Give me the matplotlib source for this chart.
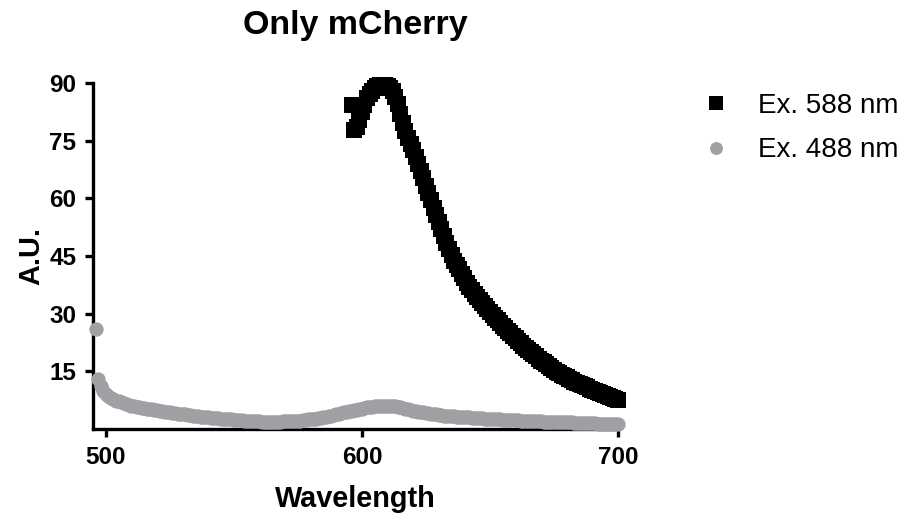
import numpy as np
import matplotlib
matplotlib.use("Agg")
import matplotlib.pyplot as plt

plt.rcParams['font.family'] = ['Liberation Sans', 'DejaVu Sans']

title = "Only mCherry"
x_label = "Wavelength"
y_label = "A.U."
series_names = ["Ex. 588 nm", "Ex. 488 nm"]
x_ticks = [500, 600, 700]
y_ticks = [15, 30, 45, 60, 75, 90]

# Emission scans, 1 nm steps
wl_588 = np.arange(596, 701, 1)
em_588 = [
    84.2, 77.8, 78.5, 80.5, 82.5, 84.3, 86.0, 87.1, 88.0, 88.7,
    89.2, 89.5, 89.6, 89.5, 89.3, 88.6, 87.8, 86.3, 84.5, 82.0,
    79.5, 77.6, 75.8, 74.2, 72.5, 70.8, 69.0, 67.1, 65.2, 63.3,
    61.5, 59.5, 57.6, 55.7, 53.8, 52.0, 50.2, 48.5, 46.9, 45.3,
    43.8, 42.6, 41.5, 40.4, 39.3, 38.1, 37.0, 36.1, 35.2, 34.3,
    33.5, 32.7, 31.9, 31.1, 30.4, 29.7, 29.0, 28.3, 27.6, 26.9,
    26.3, 25.6, 25.0, 24.3, 23.7, 23.0, 22.4, 21.7, 21.1, 20.5,
    20.0, 19.4, 18.9, 18.3, 17.8, 17.3, 16.8, 16.3, 15.8, 15.3,
    14.9, 14.5, 14.1, 13.7, 13.4, 13.0, 12.7, 12.3, 12.0, 11.7,
    11.4, 11.1, 10.8, 10.5, 10.2, 9.9, 9.7, 9.4, 9.1, 8.8,
    8.6, 8.3, 8.1, 7.8, 7.6,
]

wl_488 = np.arange(496, 701, 1)
em_488 = [
    26.0, 13.0, 11.2, 10.0, 9.2, 8.5, 8.0, 7.7, 7.4, 7.2,
    7.0, 6.7, 6.5, 6.3, 6.1, 5.9, 5.8, 5.6, 5.5, 5.4,
    5.3, 5.2, 5.1, 5.0, 4.9, 4.7, 4.6, 4.5, 4.4, 4.3,
    4.2, 4.1, 4.0, 3.9, 3.9, 3.8, 3.7, 3.6, 3.5, 3.4,
    3.3, 3.2, 3.1, 3.0, 3.0, 2.9, 2.9, 2.8, 2.8, 2.7,
    2.7, 2.6, 2.5, 2.5, 2.4, 2.4, 2.3, 2.3, 2.2, 2.2,
    2.1, 2.1, 2.0, 2.0, 2.0, 1.9, 1.9, 1.9, 1.9, 1.9,
    1.9, 1.9, 1.9, 2.0, 2.0, 2.0, 2.0, 2.1, 2.1, 2.2,
    2.2, 2.3, 2.4, 2.5, 2.6, 2.6, 2.7, 2.8, 2.8, 3.0,
    3.1, 3.3, 3.4, 3.6, 3.8, 3.9, 4.1, 4.3, 4.4, 4.6,
    4.7, 4.9, 5.0, 5.2, 5.3, 5.5, 5.6, 5.7, 5.8, 5.9,
    6.0, 6.05, 6.1, 6.1, 6.1, 6.05, 6.0, 5.9, 5.8, 5.65,
    5.5, 5.3, 5.1, 4.95, 4.8, 4.65, 4.5, 4.4, 4.3, 4.2,
    4.1, 4.0, 3.9, 3.8, 3.7, 3.6, 3.5, 3.45, 3.4, 3.35,
    3.3, 3.25, 3.2, 3.15, 3.1, 3.05, 3.0, 2.95, 2.9, 2.85,
    2.8, 2.75, 2.7, 2.7, 2.7, 2.65, 2.6, 2.55, 2.5, 2.45,
    2.4, 2.4, 2.4, 2.35, 2.3, 2.25, 2.2, 2.2, 2.2, 2.15,
    2.1, 2.05, 2.0, 2.0, 2.0, 1.95, 1.9, 1.9, 1.9, 1.85,
    1.8, 1.8, 1.8, 1.75, 1.7, 1.7, 1.7, 1.65, 1.6, 1.6,
    1.6, 1.55, 1.5, 1.5, 1.5, 1.45, 1.4, 1.4, 1.4, 1.35,
    1.3, 1.3, 1.3, 1.25, 1.2,
]

assert len(wl_588) == len(em_588)
assert len(wl_488) == len(em_488)

BLACK = "#000000"
GREY = "#a0a0a4"

W, H, DPI = 905, 517, 100
fig = plt.figure(figsize=(W / DPI, H / DPI), dpi=DPI)
ax = fig.add_axes([93 / W, 1 - 429 / H, (618 - 93) / W, (429 - 83) / H])

ax.plot(wl_488, em_488, linestyle="none", marker="o", markersize=10.3,
        color=GREY, markeredgewidth=0, label=series_names[1], clip_on=False)
ax.plot(wl_588, em_588, linestyle="none", marker="s", markersize=11,
        color=BLACK, markeredgewidth=0, label=series_names[0], clip_on=False)

ax.set_xlim(495, 700)
ax.set_ylim(0, 90)
ax.set_xticks(x_ticks)
ax.set_yticks(y_ticks)

for side in ("top", "right"):
    ax.spines[side].set_visible(False)
for side in ("left", "bottom"):
    ax.spines[side].set_linewidth(2.4)
    ax.spines[side].set_zorder(1)

ax.tick_params(axis="both", direction="out", length=6, width=2.4,
               pad=6, labelsize=17.5)
for lab in ax.get_xticklabels() + ax.get_yticklabels():
    lab.set_fontweight("bold")

ax.set_xlabel(x_label, fontsize=20.8, fontweight="bold", labelpad=12)
ax.set_ylabel(y_label, fontsize=20.8, fontweight="bold", labelpad=3)
fig.text(355.5 / W, 1 - 34 / H, title, ha="center", va="baseline",
         fontsize=24.5, fontweight="bold")

handles, labels = ax.get_legend_handles_labels()
leg = ax.legend(handles[::-1], labels[::-1], loc="upper left",
                bbox_to_anchor=(702 / W, 1 - 93 / H),
                bbox_transform=fig.transFigure, frameon=False,
                fontsize=20, handlelength=1.0, handletextpad=1.0,
                labelspacing=0.66, borderaxespad=0, borderpad=0,
                markerscale=0.9)

fig.savefig("out.png", dpi=DPI)
